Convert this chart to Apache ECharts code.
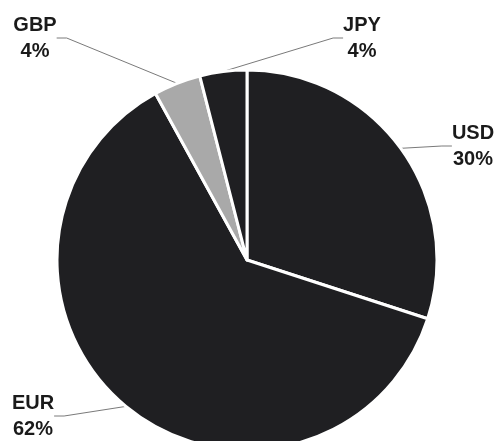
<!DOCTYPE html>
<html>
<head>
<meta charset="utf-8">
<script src="https://cdn.jsdelivr.net/npm/echarts@6/dist/echarts.min.js"></script>
<style>
html,body{margin:0;padding:0;background:#fff;}
#c{width:498px;height:441px;}
</style>
</head>
<body>
<div id="c"></div>
<script>
var categories = ['USD', 'EUR', 'GBP', 'JPY'];
var values = [30, 62, 4, 4];
var sliceColors = ['#1f1f22', '#1f1f22', '#a9a9a9', '#1f1f22'];
var labelAnchors = [[473, 120], [33, 390], [35, 12], [362, 12]];

var chart = echarts.init(document.getElementById('c'), null, {renderer: 'canvas'});
chart.setOption({
  animation: false,
  backgroundColor: '#ffffff',
  series: [{
    type: 'pie',
    center: [247, 260],
    radius: 190,
    startAngle: 90,
    clockwise: true,
    avoidLabelOverlap: false,
    itemStyle: {borderColor: '#ffffff', borderWidth: 3},
    label: {
      show: true,
      formatter: '{b}\n{d}%',
      fontFamily: 'Liberation Sans, Arial, sans-serif',
      fontWeight: 'bold',
      fontSize: 20,
      lineHeight: 26,
      color: '#1a1a1a',
      align: 'center'
    },
    labelLine: {
      show: true,
      length: 20,
      length2: 10,
      lineStyle: {color: '#7a7a7a', width: 1}
    },
    labelLayout: function (p) {
      var a = labelAnchors[p.dataIndex];
      return {x: a[0], y: a[1], align: 'center', verticalAlign: 'top'};
    },
    data: categories.map(function (c, i) {
      return {name: c, value: values[i], itemStyle: {color: sliceColors[i]}};
    })
  }]
});
</script>
</body>
</html>
